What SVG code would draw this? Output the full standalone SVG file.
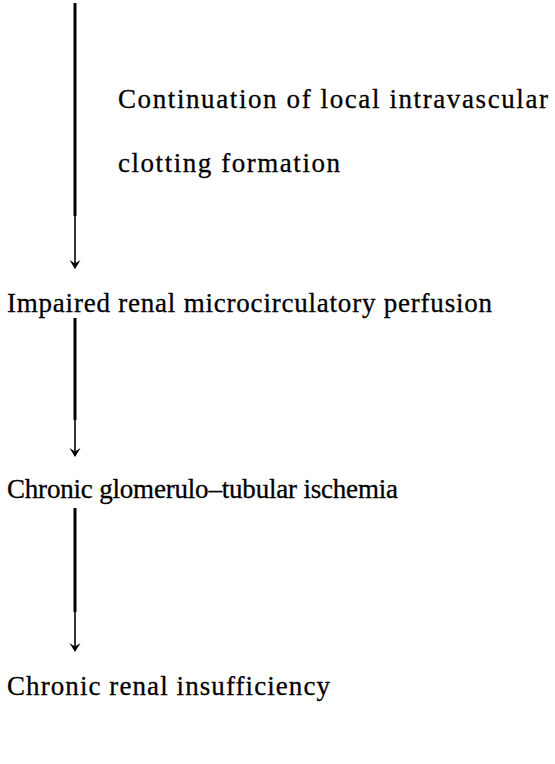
<svg xmlns="http://www.w3.org/2000/svg" width="555" height="764" viewBox="0 0 555 764">
<style>
.t{font-family:"Liberation Serif","Times New Roman",serif;font-size:27px;fill:#000;stroke:#000;stroke-width:0.3;}
.thick{stroke:#000;stroke-width:3;fill:none;}
.thin{stroke:#000;stroke-width:1.6;fill:none;}
</style>
<defs>
<marker id="ah" markerWidth="12" markerHeight="12" refX="10" refY="6" orient="auto" markerUnits="userSpaceOnUse" viewBox="0 0 12 12">
<path d="M2,0.5 L11,6 L2,11.5 L5.5,6 Z" fill="#000"/>
</marker>
</defs>
<rect width="555" height="764" fill="#fff"/>
<g id="connectors">
<g id="c1"><line class="thick" x1="75" y1="3" x2="75" y2="216"/><line class="thin" x1="75" y1="216" x2="75" y2="268" marker-end="url(#ah)"/></g>
<g id="c2"><line class="thick" x1="75" y1="318" x2="75" y2="420"/><line class="thin" x1="75" y1="420" x2="75" y2="456" marker-end="url(#ah)"/></g>
<g id="c3"><line class="thick" x1="75" y1="508" x2="75" y2="612"/><line class="thin" x1="75" y1="612" x2="75" y2="651" marker-end="url(#ah)"/></g>
</g>
<g id="n1"><text class="t" x="118" y="108" textLength="430" lengthAdjust="spacing">Continuation of local intravascular</text><text class="t" x="118" y="172" textLength="222" lengthAdjust="spacing">clotting formation</text></g>
<g id="n2"><text class="t" x="7" y="312" textLength="485" lengthAdjust="spacing">Impaired renal microcirculatory perfusion</text></g>
<g id="n3"><text class="t" x="7" y="498" textLength="391" lengthAdjust="spacing">Chronic glomerulo–tubular ischemia</text></g>
<g id="n4"><text class="t" x="7" y="695" textLength="323" lengthAdjust="spacing">Chronic renal insufficiency</text></g>
</svg>
